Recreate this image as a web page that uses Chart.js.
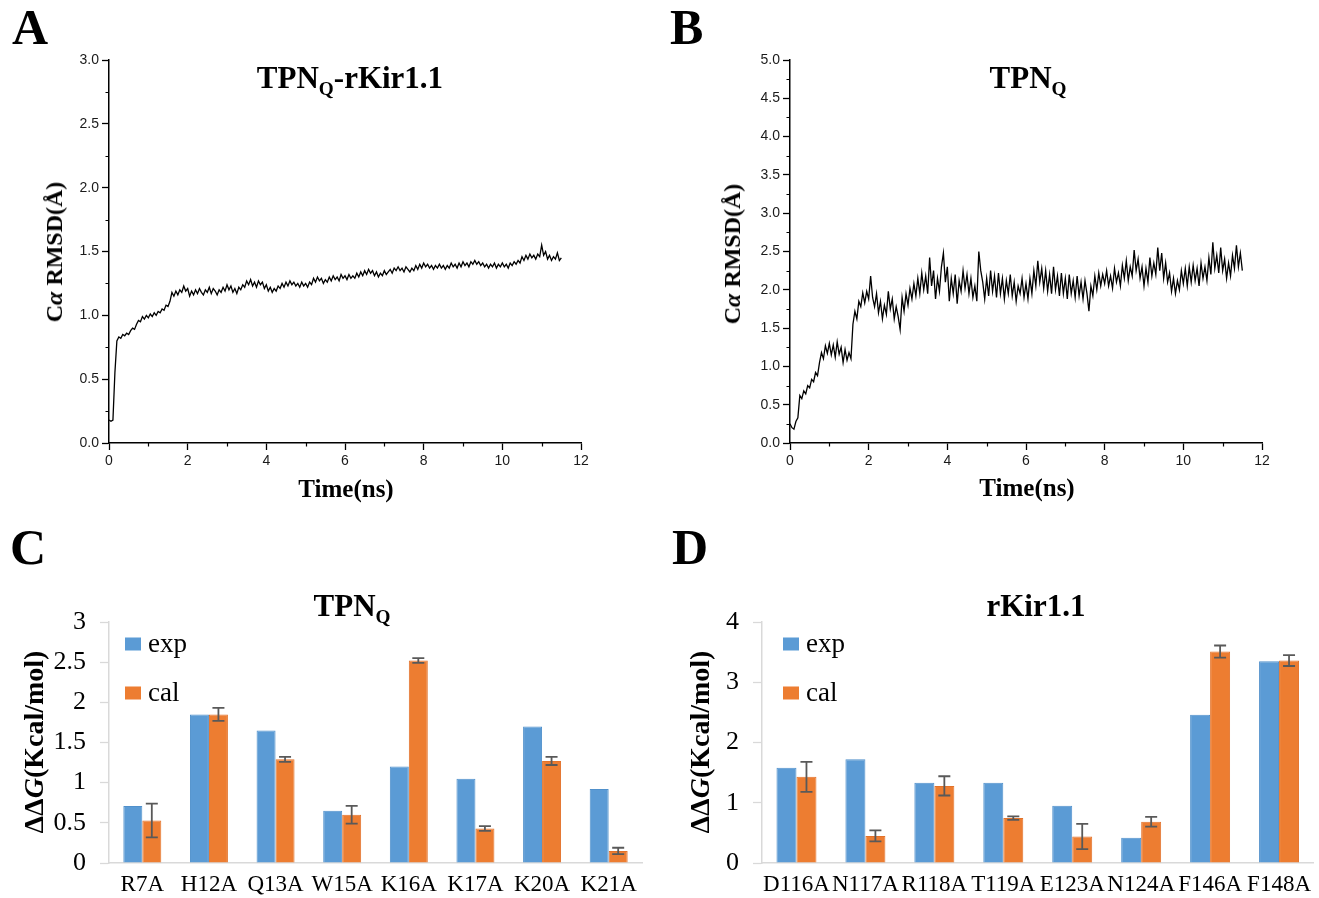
<!DOCTYPE html>
<html><head><meta charset="utf-8">
<script src="https://cdn.jsdelivr.net/npm/chart.js@4.4.1/dist/chart.umd.min.js"></script>
<style>
html,body{margin:0;padding:0;background:#fff;}
body{width:1319px;height:898px;position:relative;overflow:hidden;font-family:"Liberation Serif","Times New Roman",serif;}
canvas{position:absolute;}
.t{position:absolute;white-space:nowrap;line-height:1;color:#000;}
.b{font-weight:bold;}
.lbl{font-weight:bold;font-size:50px;transform:translateY(-50%);}
.ttl{font-weight:bold;font-size:31px;transform:translate(-50%,-50%);}
.ttl sub{font-size:0.62em;vertical-align:-0.38em;line-height:0;}
.xt{font-weight:bold;font-size:25px;transform:translate(-50%,-50%);}
.rot{transform:translate(-50%,-50%) rotate(-90deg);}
</style></head><body>
<canvas id="cA" width="660" height="520" style="left:0;top:0"></canvas>
<canvas id="cB" width="659" height="520" style="left:660px;top:0"></canvas>
<canvas id="cC" width="660" height="378" style="left:0;top:520px"></canvas>
<canvas id="cD" width="659" height="378" style="left:660px;top:520px"></canvas>

<div class="t lbl" style="left:12px;top:27px">A</div>
<div class="t lbl" style="left:670px;top:27px">B</div>
<div class="t lbl" style="left:10px;top:547px">C</div>
<div class="t lbl" style="left:672px;top:547px">D</div>

<div class="t ttl" style="left:350px;top:77px">TPN<sub>Q</sub>-rKir1.1</div>
<div class="t ttl" style="left:1028px;top:77px">TPN<sub>Q</sub></div>
<div class="t ttl" style="left:352px;top:605px">TPN<sub>Q</sub></div>
<div class="t ttl" style="left:1036px;top:605px">rKir1.1</div>

<div class="t xt" style="left:346px;top:488px">Time(ns)</div>
<div class="t xt" style="left:1027px;top:487px">Time(ns)</div>
<div class="t b rot" style="left:54px;top:252px;font-size:24px">C<i>α</i> RMSD(Å)</div>
<div class="t b rot" style="left:732px;top:254px;font-size:24px">C<i>α</i> RMSD(Å)</div>
<div class="t b rot" style="left:34px;top:742px;font-size:28px">ΔΔ<i>G</i>(Kcal/mol)</div>
<div class="t b rot" style="left:700px;top:742px;font-size:28px">ΔΔ<i>G</i>(Kcal/mol)</div>

<script>
// ---------- data ----------
const timeStepNs = 0.05;
const timeTicks = [0, 2, 4, 6, 8, 10, 12];
// Panel A: TPNQ-rKir1.1 complex, Cα RMSD (Å), one value every 0.05 ns
const rmsdComplex = [
0.18,0.17,0.18,0.55,0.80,0.83,0.82,0.85,0.84,0.86,0.85,0.88,0.90,0.89,0.93,0.96,0.95,0.99,0.97,1.00,
0.98,1.01,0.99,1.02,1.00,1.03,1.02,1.05,1.04,1.08,1.07,1.11,1.18,1.15,1.19,1.16,1.20,1.18,1.23,1.19,
1.21,1.15,1.19,1.16,1.20,1.17,1.21,1.18,1.16,1.20,1.18,1.22,1.17,1.21,1.19,1.16,1.20,1.18,1.22,1.19,
1.24,1.20,1.23,1.18,1.21,1.17,1.22,1.20,1.24,1.22,1.27,1.24,1.28,1.23,1.26,1.22,1.27,1.24,1.26,1.21,
1.24,1.19,1.22,1.18,1.21,1.19,1.23,1.21,1.25,1.22,1.26,1.23,1.27,1.24,1.26,1.23,1.25,1.22,1.26,1.23,
1.25,1.22,1.26,1.24,1.29,1.26,1.30,1.27,1.29,1.25,1.28,1.26,1.30,1.27,1.31,1.28,1.30,1.27,1.32,1.29,
1.31,1.28,1.32,1.29,1.31,1.29,1.33,1.30,1.34,1.31,1.35,1.32,1.36,1.33,1.35,1.31,1.34,1.30,1.33,1.31,
1.35,1.32,1.34,1.36,1.33,1.37,1.35,1.38,1.35,1.37,1.34,1.38,1.36,1.34,1.37,1.35,1.39,1.36,1.40,1.37,
1.41,1.38,1.40,1.37,1.39,1.36,1.39,1.37,1.40,1.37,1.39,1.36,1.39,1.37,1.41,1.38,1.40,1.37,1.41,1.38,
1.42,1.39,1.41,1.38,1.42,1.40,1.43,1.40,1.42,1.39,1.41,1.38,1.40,1.37,1.40,1.38,1.41,1.37,1.40,1.38,
1.41,1.38,1.40,1.37,1.41,1.39,1.42,1.40,1.43,1.41,1.46,1.43,1.47,1.44,1.48,1.45,1.47,1.44,1.48,1.46,
1.55,1.47,1.50,1.44,1.47,1.43,1.46,1.44,1.49,1.43,1.45];
// Panel B: free TPNQ, Cα RMSD (Å), one value every 0.05 ns
const rmsdFree = [
0.25,0.20,0.18,0.28,0.33,0.62,0.58,0.68,0.64,0.75,0.72,0.83,0.80,0.92,0.88,1.05,1.18,1.10,1.27,1.17,
1.30,1.15,1.28,1.12,1.32,1.16,1.25,1.05,1.22,1.08,1.18,1.10,1.55,1.72,1.62,1.85,1.78,1.96,1.83,1.98,
1.88,2.18,1.90,1.78,1.95,1.70,1.85,1.62,1.80,1.68,1.98,1.75,1.88,1.62,1.78,1.65,1.48,1.90,1.72,1.95,
1.80,2.02,1.88,2.08,1.92,2.15,1.95,2.22,2.00,2.18,1.95,2.42,2.05,2.25,1.88,2.15,1.98,2.30,2.48,2.10,
2.30,1.85,2.15,1.95,2.20,1.82,2.12,1.98,2.25,2.02,2.20,1.95,2.15,1.90,2.05,1.85,2.50,2.25,2.10,1.88,
2.15,1.92,2.25,1.98,2.18,1.90,2.22,1.95,2.15,1.88,2.12,1.95,2.20,1.92,2.10,1.85,2.05,1.95,2.15,1.90,
2.08,1.88,2.15,1.95,2.25,2.05,2.38,2.10,2.28,2.02,2.25,1.98,2.20,1.95,2.30,2.00,2.18,1.92,2.22,1.95,
2.15,1.88,2.20,1.95,2.12,1.90,2.18,1.92,2.10,1.88,2.12,1.95,1.72,2.05,1.92,2.18,2.00,2.22,2.05,2.20,
2.08,2.25,2.05,2.18,2.02,2.28,2.10,2.22,2.05,2.32,2.15,2.38,2.12,2.30,2.18,2.52,2.25,2.40,2.15,2.30,
2.05,2.28,2.10,2.42,2.18,2.35,2.20,2.55,2.25,2.48,2.15,2.35,2.10,2.22,1.98,2.15,1.95,2.12,2.00,2.25,
2.08,2.28,2.05,2.30,2.10,2.32,2.12,2.28,2.05,2.35,2.15,2.30,2.12,2.42,2.20,2.62,2.28,2.45,2.22,2.55,
2.25,2.40,2.15,2.35,2.18,2.45,2.28,2.58,2.30,2.48,2.25];
// Panel C: TPNQ mutants, ΔΔG (kcal/mol)
const tpnqMutants = ['R7A','H12A','Q13A','W15A','K16A','K17A','K20A','K21A'];
const tpnqExp    = [0.71, 1.85, 1.65, 0.65, 1.20, 1.05, 1.70, 0.92];
const tpnqCal    = [0.53, 1.85, 1.29, 0.60, 2.52, 0.43, 1.27, 0.15];
const tpnqCalErr = [0.21, 0.08, 0.03, 0.11, 0.03, 0.03, 0.05, 0.04];
// Panel D: rKir1.1 mutants, ΔΔG (kcal/mol)
const kirMutants = ['D116A','N117A','R118A','T119A','E123A','N124A','F146A','F148A'];
const kirExp    = [1.58, 1.72, 1.33, 1.33, 0.95, 0.42, 2.46, 3.35];
const kirCal    = [1.43, 0.45, 1.28, 0.745, 0.44, 0.685, 3.51, 3.36];
const kirCalErr = [0.25, 0.09, 0.16, 0.03, 0.21, 0.08, 0.10, 0.09];

// ---------- helpers ----------
function pin(chart, pad, t){
  for (let k=0;k<6;k++){
    const ca = chart.chartArea;
    const dl = t.left-ca.left, dt = t.top-ca.top, dr = ca.right-t.right, db = ca.bottom-t.bottom;
    if (Math.abs(dl)+Math.abs(dt)+Math.abs(dr)+Math.abs(db) < 0.3) break;
    pad.left += dl; pad.top += dt; pad.right += dr; pad.bottom += db;
    chart.update('none');
  }
}
const minorTicks = {
  id:'minorTicks',
  afterDraw(chart, args, o){
    const {ctx} = chart, xs = chart.scales.x, ys = chart.scales.y;
    ctx.save(); ctx.strokeStyle='#000'; ctx.lineWidth=1.2; ctx.beginPath();
    for (let v = xs.min + o.xStep/2; v < xs.max; v += o.xStep){
      const px = Math.round(xs.getPixelForValue(v))+0.5;
      ctx.moveTo(px, ys.bottom); ctx.lineTo(px, ys.bottom+3.5);
    }
    for (let v = ys.min + o.yStep/2; v < ys.max; v += o.yStep){
      const py = Math.round(ys.getPixelForValue(v))+0.5;
      ctx.moveTo(xs.left, py); ctx.lineTo(xs.left-3.5, py);
    }
    ctx.stroke(); ctx.restore();
  }
};
const errorBars = {
  id:'errorBars',
  afterDatasetsDraw(chart, args, o){
    const meta = chart.getDatasetMeta(o.datasetIndex), ys = chart.scales.y, ctx = chart.ctx;
    const vals = chart.data.datasets[o.datasetIndex].data;
    ctx.save(); ctx.strokeStyle=o.color; ctx.lineWidth=o.width; ctx.beginPath();
    meta.data.forEach((bar,i)=>{
      const top = ys.getPixelForValue(vals[i]+o.errors[i]);
      const bot = ys.getPixelForValue(vals[i]-o.errors[i]);
      ctx.moveTo(bar.x, top); ctx.lineTo(bar.x, bot);
      ctx.moveTo(bar.x-o.cap, top); ctx.lineTo(bar.x+o.cap, top);
      ctx.moveTo(bar.x-o.cap, bot); ctx.lineTo(bar.x+o.cap, bot);
    });
    ctx.stroke(); ctx.restore();
  }
};
const boxLegend = {
  id:'boxLegend',
  afterDraw(chart, args, o){
    const {ctx, chartArea} = chart;
    ctx.save(); ctx.font = o.font; ctx.textBaseline='middle';
    chart.data.datasets.forEach((ds,i)=>{
      const cy = chartArea.top + o.firstY + i*o.gap, x0 = chartArea.left + o.x;
      ctx.fillStyle = ds.backgroundColor; ctx.fillRect(x0, cy-o.h/2, o.w, o.h);
      ctx.fillStyle = '#000'; ctx.fillText(ds.label, x0+o.w+o.textGap, cy+1);
    });
    ctx.restore();
  }
};

// ---------- RMSD panels ----------
function rmsdChart(id, values, yMax, target){
  const pad = {left:0, top:0, right:0, bottom:0};
  const tickFont = {family:'"Liberation Sans", Arial, sans-serif', size:14};
  const axisGrid = {display:true, drawOnChartArea:false, drawTicks:true, tickLength:7, tickColor:'#000', tickWidth:1.3};
  const chart = new Chart(document.getElementById(id), {
    type:'line',
    data:{datasets:[{
      data: values.map((v,i)=>({x:i*timeStepNs, y:v})),
      borderColor:'#000', borderWidth:1.3, pointRadius:0, tension:0, fill:false
    }]},
    options:{
      responsive:false, animation:false, normalized:true,
      layout:{padding:pad},
      plugins:{legend:{display:false}, tooltip:{enabled:false}, minorTicks:{xStep:2, yStep:0.5}},
      scales:{
        x:{type:'linear', min:0, max:12,
           afterBuildTicks(s){ s.ticks = timeTicks.map(v=>({value:v})); },
           ticks:{font:tickFont, color:'#1a1a1a', padding:3, maxRotation:0, callback:v=>String(v)},
           grid:axisGrid, border:{display:true, color:'#000', width:1.5}},
        y:{min:0, max:yMax,
           ticks:{stepSize:0.5, font:tickFont, color:'#1a1a1a', padding:3, callback:v=>Number(v).toFixed(1)},
           grid:axisGrid, border:{display:true, color:'#000', width:1.5}}
      }
    },
    plugins:[minorTicks]
  });
  pin(chart, pad, target);
  return chart;
}
rmsdChart('cA', rmsdComplex, 3, {left:109, top:60, right:581, bottom:443});
rmsdChart('cB', rmsdFree, 5, {left:130, top:60, right:602, bottom:443});

// ---------- ΔΔG panels ----------
function ddgChart(id, labels, exp, cal, err, yMax, catPct, legX, target){
  const pad = {left:0, top:0, right:0, bottom:0};
  const chart = new Chart(document.getElementById(id), {
    type:'bar',
    data:{labels, datasets:[
      {label:'exp', data:exp, backgroundColor:'#5B9BD5', borderColor:'#5090CB', borderWidth:1, categoryPercentage:catPct, barPercentage:1},
      {label:'cal', data:cal, backgroundColor:'#ED7D31', borderColor:'#E2722A', borderWidth:1, categoryPercentage:catPct, barPercentage:1}
    ]},
    options:{
      responsive:false, animation:false,
      layout:{padding:pad},
      plugins:{
        legend:{display:false}, tooltip:{enabled:false},
        errorBars:{datasetIndex:1, errors:err, color:'#595959', width:1.8, cap:6},
        boxLegend:{font:'27px "Liberation Serif", serif', x:legX, firstY:22, gap:49, w:16, h:13, textGap:7}
      },
      scales:{
        x:{ticks:{font:{family:'"Liberation Serif", serif', size:23}, color:'#000', padding:8, maxRotation:0, autoSkip:false},
           grid:{display:true, drawOnChartArea:false, drawTicks:false},
           border:{display:true, color:'#d9d9d9', width:1.5}},
        y:{min:0, max:yMax,
           ticks:{stepSize: yMax===3?0.5:1, font:{family:'"Liberation Serif", serif', size:26}, color:'#000', padding:14,
                  callback:v=>String(Math.round(Number(v)*10)/10)},
           grid:{display:true, drawOnChartArea:false, drawTicks:true, tickLength:9, tickColor:'#d9d9d9', tickWidth:1.3},
           border:{display:true, color:'#d9d9d9', width:1.5}}
      }
    },
    plugins:[errorBars, boxLegend]
  });
  pin(chart, pad, target);
  return chart;
}
ddgChart('cC', tpnqMutants, tpnqExp, tpnqCal, tpnqCalErr, 3, 0.57, 16, {left:109, top:102, right:642, bottom:343});
ddgChart('cD', kirMutants, kirExp, kirCal, kirCalErr, 4, 0.58, 21, {left:102, top:102, right:654, bottom:343});
</script>
</body></html>
